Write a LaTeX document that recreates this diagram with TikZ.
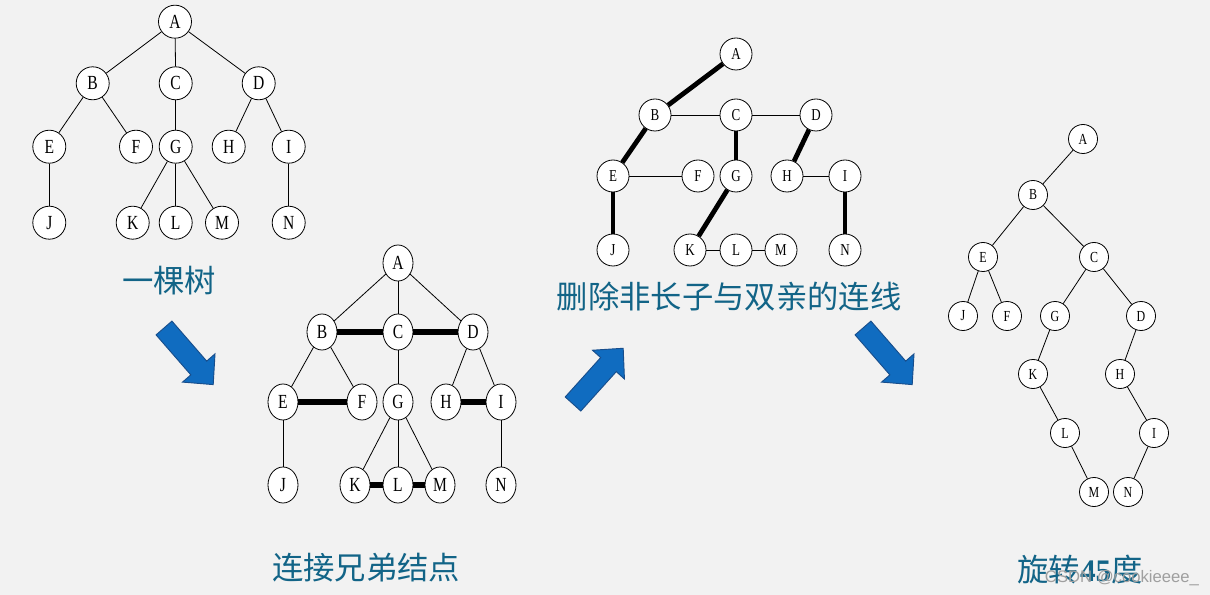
\documentclass[tikz,border=0pt]{standalone}
\usepackage{fontspec}
\setmainfont{Liberation Serif}
\newfontfamily\cjkfont{Noto Sans CJK SC}
\newfontfamily\letterfont[FakeStretch=0.78]{Liberation Serif}
\newfontfamily\markfont{Liberation Sans}
\usetikzlibrary{positioning, shapes.geometric}
\definecolor{bgcol}{RGB}{242,242,242}
\definecolor{captioncol}{RGB}{18,100,135}
\definecolor{arrowfill}{RGB}{16,108,192}
\definecolor{arrowedge}{RGB}{24,78,140}

\begin{document}
\begin{tikzpicture}[x=0.75pt, y=-0.75pt,
	knot/.style={circle, draw, line width=0.6pt, fill=white, inner sep=0pt},
	knotA/.style={knot, minimum size=24.75pt, font=\letterfont\fontsize{15}{15}\selectfont},
	knotB/.style={ellipse, draw, line width=0.6pt, fill=white, inner sep=0pt, minimum width=22.5pt, minimum height=27pt, font=\letterfont\fontsize{15}{15}\selectfont},
	knotC/.style={knot, minimum size=24pt, font=\letterfont\fontsize{12.5}{12.5}\selectfont},
	knotD/.style={knot, minimum size=21.75pt, font=\letterfont\fontsize{11.5}{11.5}\selectfont},
	edge/.style={line width=0.6pt},
	bond/.style={line width=4.5pt},
	keep/.style={line width=3.6pt},
	caption/.style={text=captioncol, font=\cjkfont\fontsize{23.5}{23.5}\selectfont},
	bigarrow/.style={fill=arrowfill, draw=arrowedge, line width=0.7pt, line join=miter}]
	\useasboundingbox (0,0) rectangle (1210,595);
	\fill[bgcol] (0,0) rectangle (1210,595);

	% a tree
	\foreach \n/\x/\y in {A/175/21.7, B/92.7/83.3, C/175.7/83.3, D/258.7/83.3,
		E/49.3/146.7, F/136/146.7, G/175.7/146.7, H/228.7/146.7, I/288.7/146.7,
		J/49.3/222.7, K/132.7/222.7, L/175.7/222.7, M/222/222.7, N/288.7/222.7}
		\node[knotA] (t1\n) at (\x,\y) {\n};
	\foreach \u/\v in {A/B, A/C, A/D, B/E, B/F, C/G, D/H, D/I, E/J, G/K, G/L, G/M, I/N}
		\draw[edge] (t1\u) -- (t1\v);
	\node[caption] (cap1) at (169,281) {一棵树};

	% siblings joined
	\foreach \n/\x/\y in {A/398/263, B/322/332, C/398/332, D/473/332,
		E/283/402, F/362/402, G/398/402, H/446/402, I/501/402,
		J/283/485, K/355/485, L/398/485, M/440/485, N/501/485}
		\node[knotB] (t2\n) at (\x,\y) {\n};
	\foreach \u/\v in {A/B, A/C, A/D, B/E, B/F, C/G, D/H, D/I, E/J, G/K, G/L, G/M, I/N}
		\draw[edge] (t2\u) -- (t2\v);
	\foreach \u/\v in {B/C, C/D, E/F, H/I, K/L, L/M}
		\draw[bond] (t2\u) -- (t2\v);
	\node[caption] (cap2) at (366,568) {连接兄弟结点};

	% first child links only
	\foreach \n/\x/\y in {A/736/54, B/655/115, C/736/115, D/816/115,
		E/613/176, F/698/176, G/736/176, H/787/176, I/845/176,
		J/613/250, K/690/250, L/736/250, M/781/250, N/845/250}
		\node[knotC] (t3\n) at (\x,\y) {\n};
	\foreach \u/\v in {B/C, C/D, E/F, H/I, K/L, L/M}
		\draw[edge] (t3\u) -- (t3\v);
	\foreach \u/\v in {A/B, B/E, C/G, D/H, E/J, G/K, I/N}
		\draw[keep] (t3\u) -- (t3\v);
	\node[caption] (cap3) at (729,297) {删除非长子与双亲的连线};

	% binary tree
	\foreach \n/\x/\y in {A/1083/139, B/1033/195, E/983/257, C/1094/257,
		J/963/316, F/1007/316, G/1055/316, D/1141/316,
		K/1033/374, H/1120/374, L/1065/433, I/1154/433, M/1094/492, N/1128/492}
		\node[knotD] (t4\n) at (\x,\y) {\n};
	\foreach \u/\v in {A/B, B/E, B/C, E/J, E/F, C/G, C/D, G/K, D/H, K/L, H/I, L/M, I/N}
		\draw[edge] (t4\u) -- (t4\v);
	\node[caption] (cap4) at (1080,570) {旋转{\rmfamily\bfseries 45}度};
	\node[text=gray!75, font=\markfont\fontsize{12.5}{12.5}\selectfont] (mark) at (1122,578) {CSDN @cookieeee\_};

	% arrows
	\foreach \sx/\sy/\ang in {164/328/-49, 573/404/48, 863/328/-49}
		\draw[bigarrow, shift={(\sx,\sy)}, rotate=\ang]
			(0,-10.5) -- (53,-10.5) -- (53,-21.5) -- (75,0) -- (53,21.5) -- (53,10.5) -- (0,10.5) -- cycle;
\end{tikzpicture}
\end{document}
